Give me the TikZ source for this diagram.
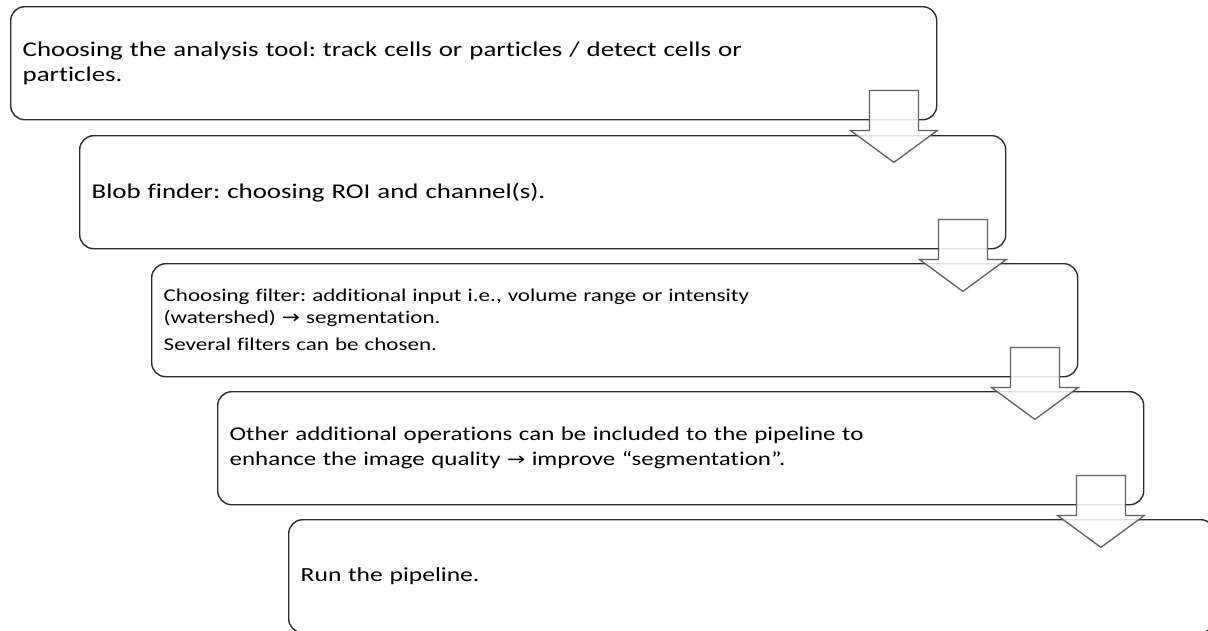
\documentclass[tikz,border=0pt]{standalone}
\usepackage{fontspec}
\setmainfont{Carlito}[FakeStretch=1.28, Ligatures=NoCommon]
\newfontfamily\symfont{DejaVu Sans}[FakeStretch=1.2]
\usetikzlibrary{calc}
\definecolor{boxcol}{RGB}{45,45,45}
\definecolor{arrowcol}{RGB}{95,95,95}
\frenchspacing
\newcommand\rarr{{\symfont\fontsize{18}{22}\selectfont →}}
\begin{document}
\begin{tikzpicture}[x=1pt,y=-1pt,
  box/.style={draw=boxcol, line width=1.4pt, rounded corners=14pt,
    minimum width=926pt, minimum height=113pt, text width=902pt,
    align=left, inner sep=12pt, anchor=north west,
    font=\fontsize{20.5}{25}\selectfont},
  blockarrow/.style={draw=arrowcol, line width=1.3pt, fill=white,
    fill opacity=0.85, line join=miter}]
\useasboundingbox (0,0) rectangle (1208,630);
\clip (0,0) rectangle (1208,630);
\fill[white] (0,0) rectangle (1208,630);
\node[box, font=\fontsize{21}{25}\selectfont] (b1) at (10,6) {Choosing the analysis tool: track cells or particles / detect cells or\\particles.};
\node[box, font=\fontsize{21}{25}\selectfont] (b2) at (79,135) {Blob finder: choosing ROI and channel(s).};
\node[box, font=\fontsize{18}{22}\selectfont] (b3) at (151,263) {Choosing filter: additional input i.e., volume range or intensity\\(watershed) \rarr{} segmentation.\par\vspace{5pt}Several filters can be chosen.};
\node[box, font=\fontsize{19.5}{25}\selectfont] (b4) at (217,391) {Other additional operations can be included to the pipeline to\\enhance the image quality \rarr{} improve “segmentation”.};
\node[box, font=\fontsize{20}{25}\selectfont] (b5) at (288,519) {Run the pipeline.};
\foreach \n in {b1,b2,b3,b4}{
  \begin{scope}[shift={(\n.south east)}]
    \draw[blockarrow] (-68,-30) -- (-19,-30) -- (-19,10) -- (0,10)
      -- (-43.5,42) -- (-87,10) -- (-68,10) -- cycle;
  \end{scope}
}
\end{tikzpicture}
\end{document}
